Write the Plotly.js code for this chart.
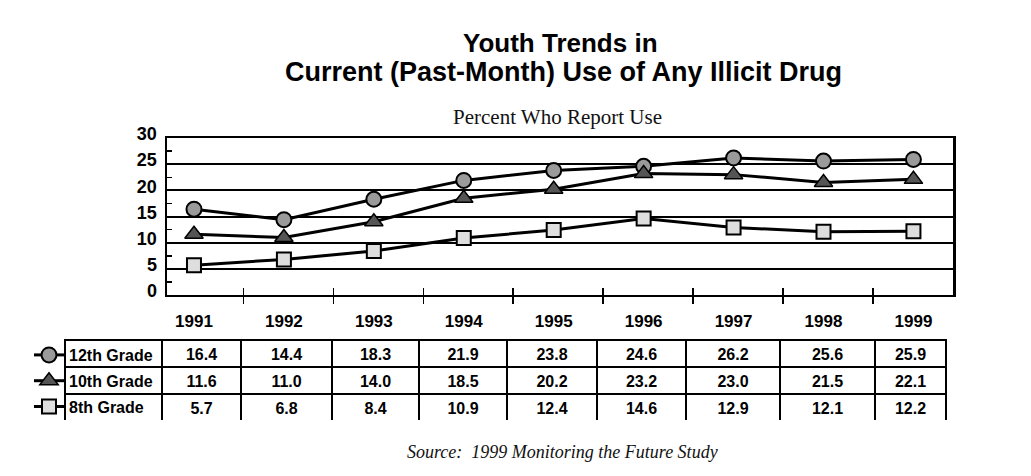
<!DOCTYPE html>
<html>
<head>
<meta charset="utf-8">
<script src="https://cdn.plot.ly/plotly-3.0.1.min.js"></script>
<style>html,body{margin:0;padding:0;background:#fff;}</style>
</head>
<body>
<div id="chart" style="width:1031px;height:476px;"></div>
<script>
// ---- data ----
const years = [1991, 1992, 1993, 1994, 1995, 1996, 1997, 1998, 1999];
const yearLabels = ['1991', '1992', '1993', '1994', '1995', '1996', '1997', '1998', '1999'];
const seriesNames = ['12th Grade', '10th Grade', '8th Grade'];
const grade12 = [16.4, 14.4, 18.3, 21.9, 23.8, 24.6, 26.2, 25.6, 25.9];
const grade10 = [11.6, 11.0, 14.0, 18.5, 20.2, 23.2, 23.0, 21.5, 22.1];
const grade8 = [5.7, 6.8, 8.4, 10.9, 12.4, 14.6, 12.9, 12.1, 12.2];
const yTicks = [0, 5, 10, 15, 20, 25, 30];
const titleLine1 = 'Youth Trends in';
const titleLine2 = 'Current (Past-Month) Use of Any Illicit Drug';
const subtitle = 'Percent Who Report Use';
const sourceText = 'Source:  1999 Monitoring the Future Study';

// ---- styling ----
const W = 1031, H = 476;
const px = v => v / W;
const py = v => 1 - v / H;
const sans = 'Liberation Sans, Arial, Helvetica, sans-serif';
const serif = 'Liberation Serif, Times New Roman, serif';

const seriesData = [grade12, grade10, grade8];
const markerStyles = [
  {symbol: 'circle', size: 15, color: '#9a9a9a', line: {color: '#000', width: 2}},
  {symbol: 'triangle-up', size: 16, color: '#555555', line: {color: '#000', width: 1.5}},
  {symbol: 'square', size: 14, color: '#dedede', line: {color: '#000', width: 2}}
];

const traces = seriesData.map((vals, i) => ({
  type: 'scatter',
  mode: 'lines+markers',
  x: years,
  y: vals,
  name: '<b>' + seriesNames[i] + '</b>',
  legendgroup: 'g' + i,
  line: {color: '#000', width: 3},
  marker: markerStyles[i],
  hoverinfo: 'skip',
  cliponaxis: false
}));

// boundary tick positions between years
const boundaries = years.slice(0, -1).map(y => y + 0.55);
const yMinor = yTicks.slice(0, -1).map(v => v + 2.5);

// dummy trace for overlay axis (inside half of crossing ticks)
traces.push({type: 'scatter', x: [], y: [], xaxis: 'x2', yaxis: 'y', showlegend: false, hoverinfo: 'skip'});

// table
const fmt = v => v.toFixed(1);
const headerVals = [['']].concat(grade12.map(v => [fmt(v)]));
const cellVals = [['', '']].concat(years.map((_, j) => [fmt(grade10[j]), fmt(grade8[j])]));
traces.push({
  type: 'table',
  domain: {x: [px(65), px(946)], y: [py(421), py(340)]},
  columnwidth: [97, 79, 91, 87, 88, 90, 89, 94, 95, 71],
  header: {
    values: headerVals,
    height: 27,
    align: 'center',
    line: {color: '#000', width: 2},
    fill: {color: '#fff'},
    font: {family: sans, size: 16, color: '#000', weight: 'bold'}
  },
  cells: {
    values: cellVals,
    height: 27,
    align: 'center',
    line: {color: '#000', width: 2},
    fill: {color: '#fff'},
    font: {family: sans, size: 16, color: '#000', weight: 'bold'}
  }
});

const layout = {
  width: W, height: H,
  margin: {l: 0, r: 0, t: 0, b: 0},
  paper_bgcolor: '#fff',
  plot_bgcolor: '#fff',
  showlegend: true,
  legend: {
    x: px(29), xanchor: 'left',
    y: py(338), yanchor: 'top',
    bgcolor: 'rgba(0,0,0,0)',
    font: {family: sans, size: 16, color: '#000'},
    tracegroupgap: 2,
    traceorder: 'grouped'
  },
  xaxis: {
    domain: [px(167), px(953)],
    range: [1990.7, 1999.44],
    tickmode: 'array', tickvals: years, ticktext: yearLabels,
    ticks: '',
    tickfont: {family: sans, size: 17, color: '#000', weight: 'bold'},
    ticklabelstandoff: 10,
    minor: {tickmode: 'array', tickvals: boundaries, ticks: 'outside', ticklen: 7, tickwidth: 1.5, tickcolor: '#000', showgrid: false},
    showline: true, mirror: true, linecolor: '#000', linewidth: 2,
    showgrid: false, zeroline: false, fixedrange: true
  },
  xaxis2: {
    overlaying: 'x', anchor: 'y',
    range: [1990.7, 1999.44],
    tickmode: 'array', tickvals: boundaries,
    ticks: 'inside', ticklen: 7, tickwidth: 1.5, tickcolor: '#000',
    showticklabels: false, showline: false, showgrid: false, zeroline: false
  },
  yaxis: {
    domain: [py(295), py(138)],
    range: [0, 30],
    tickmode: 'array', tickvals: yTicks,
    ticks: '',
    tickfont: {family: sans, size: 18, color: '#000', weight: 'bold'},
    ticklabelstandoff: 4,
    ticklabelshift: -4,
    minor: {tickmode: 'array', tickvals: yMinor, ticks: 'inside', ticklen: 5, tickwidth: 1.5, tickcolor: '#000', showgrid: false},
    showgrid: true, gridcolor: '#000', gridwidth: 2,
    showline: true, mirror: true, linecolor: '#000', linewidth: 2.5,
    zeroline: false, fixedrange: true
  },
  annotations: [
    {text: '<b>' + titleLine1 + '</b>', x: px(560), y: py(43), xref: 'paper', yref: 'paper',
     showarrow: false, xanchor: 'center', yanchor: 'middle',
     font: {family: sans, size: 26, color: '#000'}},
    {text: '<b>' + titleLine2 + '</b>', x: px(563), y: py(72), xref: 'paper', yref: 'paper',
     showarrow: false, xanchor: 'center', yanchor: 'middle',
     font: {family: sans, size: 27, color: '#000'}},
    {text: subtitle, x: px(557), y: py(117), xref: 'paper', yref: 'paper',
     showarrow: false, xanchor: 'center', yanchor: 'middle',
     font: {family: serif, size: 21, color: '#111'}},
    {text: '<i>' + sourceText + '</i>', x: px(562), y: py(452), xref: 'paper', yref: 'paper',
     showarrow: false, xanchor: 'center', yanchor: 'middle',
     font: {family: serif, size: 18, color: '#111'}}
  ]
};

Plotly.newPlot('chart', traces, layout, {displayModeBar: false, staticPlot: true});
</script>
</body>
</html>
